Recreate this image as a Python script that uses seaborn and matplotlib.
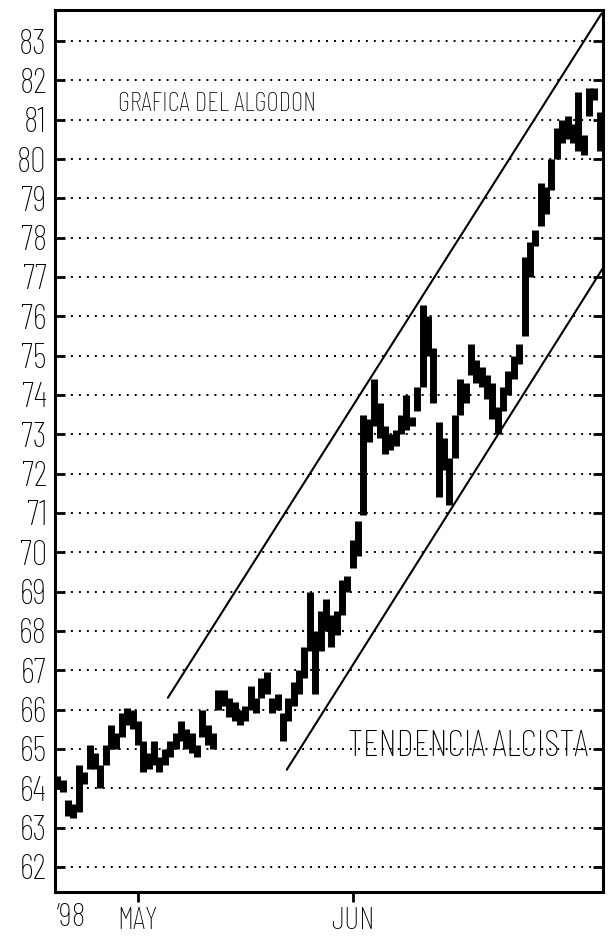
import numpy as np
import pandas as pd
import matplotlib
matplotlib.use("Agg")
import matplotlib.pyplot as plt
import seaborn as sns
from matplotlib.transforms import blended_transform_factory

# ---- data ----
low = [64.0, 63.9, 63.3, 63.25, 63.4, 64.1, 64.5, 64.5, 64.0, 64.6,
       65.0, 65.0, 65.3, 65.6, 65.5, 65.1, 64.4, 64.5, 64.6, 64.4,
       64.6, 64.8, 65.0, 65.2, 65.0, 64.9, 64.8, 65.3, 65.1, 65.0,
       66.0, 66.1, 65.8, 65.7, 65.6, 65.7, 66.0, 65.9, 66.3, 66.4,
       65.9, 66.0, 65.2, 65.7, 66.1, 66.4, 66.8, 67.5, 66.4, 67.5,
       68.0, 67.6, 67.9, 68.4, 69.0, 69.6, 69.9, 70.95, 72.8, 73.2,
       72.9, 72.5, 72.6, 72.7, 73.0, 73.1, 73.2, 73.6, 74.2, 75.0,
       73.8, 71.4, 72.1, 71.2, 72.4, 73.5, 73.8, 74.5, 74.3, 74.2,
       73.9, 73.4, 73.0, 73.6, 74.0, 74.4, 74.8, 75.5, 77.0, 77.8,
       78.3, 78.6, 79.2, 80.0, 80.4, 80.5, 80.4, 80.2, 80.1, 81.1,
       81.5, 80.2, 80.8]
high = [64.3, 64.2, 63.7, 63.6, 64.6, 64.4, 65.1, 64.9, 64.6, 65.1,
        65.6, 65.4, 65.9, 66.05, 66.0, 65.7, 65.2, 64.9, 65.2, 64.8,
        65.0, 65.2, 65.4, 65.7, 65.5, 65.4, 65.1, 66.0, 65.6, 65.4,
        66.5, 66.5, 66.3, 66.2, 66.0, 66.1, 66.6, 66.3, 66.8, 66.95,
        66.3, 66.4, 65.9, 66.3, 66.7, 67.0, 67.6, 69.0, 68.0, 68.5,
        68.8, 68.4, 68.5, 69.3, 69.4, 70.3, 70.8, 73.5, 73.4, 74.4,
        73.8, 73.2, 73.0, 73.1, 73.5, 74.0, 73.45, 74.2, 76.3, 76.0,
        75.2, 73.3, 72.9, 72.4, 73.5, 74.4, 74.3, 75.3, 74.9, 74.7,
        74.5, 74.3, 73.7, 74.2, 74.6, 75.0, 75.3, 77.5, 77.9, 78.2,
        79.4, 79.3, 80.0, 80.8, 81.0, 81.1, 80.9, 81.7, 80.6, 81.8,
        81.8, 81.2, 81.3]
first_session = -7.5          # trading days relative to May 1
session_step = 0.5
month_ticks = [0, 20]
month_labels = ["MAY", "JUN"]
year_label = "\u201998"
year_pos = -6.2
upper_trend_x = [2.79, 43.16]
upper_trend_y = [66.3, 83.7]
lower_trend_x = [13.86, 43.6]
lower_trend_y = [64.47, 77.36]
y_ticks = list(range(62, 84))
title_text = "GRAFICA DEL ALGODON"
title_pos = (7.35, 81.4)
trend_text = "TENDENCIA ALCISTA"
trend_pos = (30.7, 65.05)

# ---- style ----
sns.set_theme(style="white")
fam = ["Barlow Condensed", "DejaVu Sans"]
plt.rcParams["font.family"] = fam
plt.rcParams["font.weight"] = "light"
for k in ["text.color", "axes.labelcolor", "xtick.color", "ytick.color", "axes.edgecolor"]:
    plt.rcParams[k] = "black"

sessions = first_session + session_step * np.arange(len(low))
df = pd.DataFrame({
    "session": np.repeat(sessions, 2),
    "price": np.column_stack([low, high]).ravel(),
    "bar": np.repeat(np.arange(len(low)), 2),
})
trend_df = pd.DataFrame({
    "session": upper_trend_x + lower_trend_x,
    "price": upper_trend_y + lower_trend_y,
    "line": ["up", "up", "low", "low"],
})

fig = plt.figure(figsize=(6.1, 9.38), dpi=100)
ax = fig.add_axes([55 / 610, 1 - 892 / 938, 548 / 610, 882 / 938])

ax.set_yticks(y_ticks)
ax.grid(axis="y", color="black", linestyle=(0, (1, 3.1)), linewidth=1.4)
ax.grid(axis="x", visible=False)
ax.set_axisbelow(True)

sns.lineplot(data=df, x="session", y="price", units="bar", estimator=None,
             color="black", lw=5.0, solid_capstyle="butt", ax=ax, legend=False)
sns.lineplot(data=trend_df, x="session", y="price", units="line", estimator=None,
             color="black", lw=1.5, ax=ax, legend=False, sort=False)

ax.set_xlim(-7.72, 43.3)
ax.set_ylim(61.36, 83.79)
ax.set_xticks(month_ticks)
ax.set_xticklabels(month_labels)
ax.set_yticklabels([str(v) for v in y_ticks])
ax.set_xlabel("")
ax.set_ylabel("")

ax.tick_params(axis="y", direction="in", length=7, width=2, left=True, right=True,
               labelleft=True, labelsize=25, pad=6)
ax.tick_params(axis="x", direction="out", length=7, width=2, bottom=True,
               labelsize=23, pad=4)
for s in ax.spines.values():
    s.set_visible(True)
    s.set_color("black")
    s.set_linewidth(2.2)

trans = blended_transform_factory(ax.transData, ax.transAxes)
ax.text(year_pos, -0.0125, year_label, transform=trans, ha="center", va="top",
        fontsize=24, family=fam, weight="light")
ax.text(title_pos[0], title_pos[1], title_text, ha="center", va="center",
        fontsize=19.5, family=fam, weight="light")
ax.text(trend_pos[0], trend_pos[1], trend_text, ha="center", va="center",
        fontsize=27, family=fam, weight="light")

fig.savefig("out.png", dpi=100, facecolor="white")
